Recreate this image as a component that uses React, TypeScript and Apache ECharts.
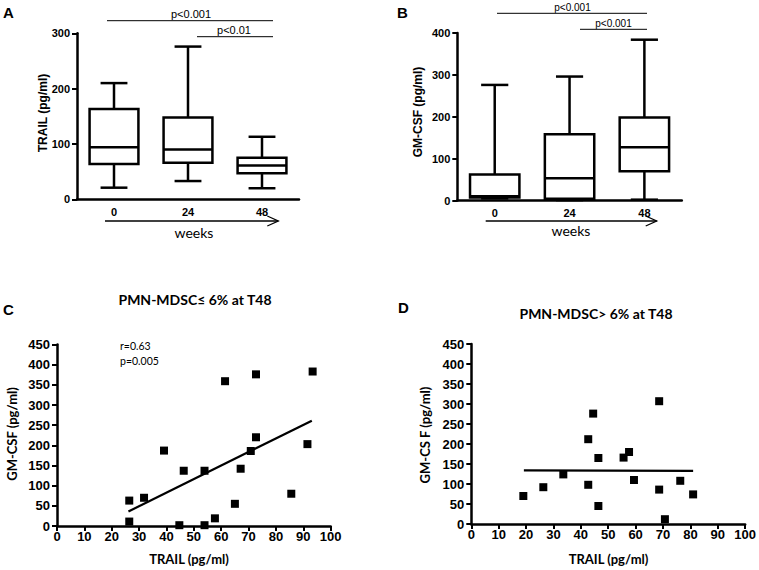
import React, { useEffect, useRef } from "react";
import * as echarts from "echarts";

// ---------- data ----------
const weekCategories = ["0", "24", "48"];
// box rows: [low whisker, Q1, median, Q3, high whisker]
const trailBoxes = [
  [21, 64, 94, 163, 210],
  [33, 66, 90, 148, 276],
  [20, 47, 61, 75, 113],
];
const gmcsfBoxes = [
  [5, 7, 10, 62, 276],
  [1, 4, 53, 158, 296],
  [2, 70, 127, 198, 384],
];
const trailTicks = { min: 0, max: 300, interval: 100 };
const gmcsfTicks = { min: 0, max: 400, interval: 100 };

// [TRAIL, GM-CSF]
const lowMdscPoints = [
  [26.4, 63], [26.4, 11], [31.8, 70], [39.1, 187], [44.7, 2], [46.3, 137],
  [53.9, 2], [53.9, 137], [57.7, 19], [61.4, 359], [65.0, 55], [67.1, 142],
  [70.8, 186], [72.7, 220], [72.7, 376], [85.6, 80], [91.5, 203], [93.4, 383],
];
const lowMdscFit = [[26.1, 36], [93.1, 261]];
const highMdscPoints = [
  [19.0, 70], [26.3, 92], [33.6, 124], [42.7, 98], [42.7, 212], [44.5, 276],
  [46.4, 165], [46.4, 45], [55.6, 166], [57.6, 180], [59.4, 110], [68.6, 307],
  [68.6, 86], [70.7, 12], [76.3, 108], [81.0, 74],
];
const highMdscFit = [[19.2, 134], [81.0, 133]];

const sigA = ["p<0.001", "p<0.01"];
const sigB = ["p<0.001", "p<0.001"];
const corrC = ["r=0.63", "p=0.005"];

// ---------- styles ----------
const ARIAL = "Liberation Sans, Arial, sans-serif";
const CALIBRI = "Lato, Open Sans, sans-serif";
const AX = 2.5;

function renderBox(params: any, api: any) {
  const idx = api.value(0);
  const vals = [1, 2, 3, 4, 5].map((i) => api.value(i));
  const band = api.size([1, 0])[0];
  const half = band * 0.33;
  const cap = half * 0.55;
  const pts = vals.map((v) => api.coord([idx, v]));
  const [pLow, pQ1, pMed, pQ3, pHigh] = pts;
  const cx = pLow[0];
  const ls = { stroke: "#000", lineWidth: 2.5, fill: "none" };
  return {
    type: "group",
    children: [
      { type: "line", shape: { x1: cx, y1: pQ3[1], x2: cx, y2: pHigh[1] }, style: ls },
      { type: "line", shape: { x1: cx, y1: pQ1[1], x2: cx, y2: pLow[1] }, style: ls },
      { type: "line", shape: { x1: cx - cap, y1: pHigh[1], x2: cx + cap, y2: pHigh[1] }, style: ls },
      { type: "line", shape: { x1: cx - cap, y1: pLow[1], x2: cx + cap, y2: pLow[1] }, style: ls },
      {
        type: "rect",
        shape: { x: cx - half, y: pQ3[1], width: half * 2, height: pQ1[1] - pQ3[1] },
        style: { stroke: "#000", lineWidth: 2.5, fill: "#fff" },
      },
      { type: "line", shape: { x1: cx - half, y1: pMed[1], x2: cx + half, y2: pMed[1] }, style: ls },
    ],
  };
}

function catAxis(gridIndex: number) {
  return {
    type: "category",
    gridIndex,
    data: weekCategories,
    boundaryGap: true,
    axisLine: { lineStyle: { color: "#000", width: AX } },
    axisTick: { alignWithLabel: true, length: 4, lineStyle: { color: "#000", width: 2 } },
    axisLabel: { color: "#000", fontFamily: ARIAL, fontWeight: "bold", fontSize: 11, margin: 7 },
    splitLine: { show: false },
  };
}

function valAxis(gridIndex: number, t: any, fontSize: number, margin: number) {
  return {
    type: "value",
    gridIndex,
    min: t.min,
    max: t.max,
    interval: t.interval,
    axisLine: { show: true, lineStyle: { color: "#000", width: AX } },
    axisTick: { show: true, length: 5, lineStyle: { color: "#000", width: 2 } },
    axisLabel: { color: "#000", fontFamily: ARIAL, fontWeight: "bold", fontSize, margin },
    splitLine: { show: false },
  };
}

function text(x: number, y: number, s: string, font: string, size: number, weight = "normal", align = "center", rot = 0, va = "middle") {
  return {
    type: "text",
    x,
    y,
    rotation: rot,
    style: { text: s, fontFamily: font, fontSize: size, fontWeight: weight, fill: "#000", align, verticalAlign: va },
  };
}

function hline(x1: number, x2: number, y: number, w = 1) {
  return { type: "line", shape: { x1, y1: y, x2, y2: y }, style: { stroke: "#000", lineWidth: w } };
}

function arrow(x1: number, x2: number, y: number) {
  return [
    hline(x1, x2, y, 1.3),
    {
      type: "polyline",
      shape: { points: [[x2 - 11, y - 5], [x2, y], [x2 - 11, y + 5]] },
      style: { stroke: "#000", lineWidth: 1.3, fill: "none" },
    },
  ];
}

export default function App() {
  const ref = useRef<HTMLDivElement>(null);
  useEffect(() => {
    if (!ref.current) return;
    const chart = echarts.init(ref.current, null, { renderer: "svg" });
    const option: any = {
      animation: false,
      backgroundColor: "#fff",
      grid: [
        { left: 77, top: 33.3, width: 222, height: 166 },
        { left: 457.3, top: 33, width: 224.5, height: 167.5 },
        { left: 57, top: 344.5, width: 273.7, height: 181.5 },
        { left: 471.3, top: 344, width: 274.4, height: 180 },
      ],
      xAxis: [
        catAxis(0),
        catAxis(1),
        { ...valAxis(2, { min: 0, max: 100, interval: 10 }, 13, 4) },
        { ...valAxis(3, { min: 0, max: 100, interval: 10 }, 13, 4) },
      ],
      yAxis: [
        valAxis(0, trailTicks, 11, 7),
        valAxis(1, gmcsfTicks, 11, 7),
        valAxis(2, { min: 0, max: 450, interval: 50 }, 13, 7),
        valAxis(3, { min: 0, max: 450, interval: 50 }, 13, 7),
      ],
      series: [
        {
          type: "custom",
          xAxisIndex: 0,
          yAxisIndex: 0,
          renderItem: renderBox,
          encode: { x: 0, y: [1, 2, 3, 4, 5] },
          data: trailBoxes.map((b, i) => [i, ...b]),
          z: 3,
        },
        {
          type: "custom",
          xAxisIndex: 1,
          yAxisIndex: 1,
          renderItem: renderBox,
          encode: { x: 0, y: [1, 2, 3, 4, 5] },
          data: gmcsfBoxes.map((b, i) => [i, ...b]),
          z: 3,
        },
        {
          type: "scatter",
          xAxisIndex: 2,
          yAxisIndex: 2,
          symbol: "rect",
          symbolSize: 8,
          itemStyle: { color: "#000", opacity: 1 },
          data: lowMdscPoints,
          z: 4,
        },
        {
          type: "line",
          xAxisIndex: 2,
          yAxisIndex: 2,
          symbol: "none",
          lineStyle: { color: "#000", width: 2.2 },
          data: lowMdscFit,
          z: 3,
        },
        {
          type: "scatter",
          xAxisIndex: 3,
          yAxisIndex: 3,
          symbol: "rect",
          symbolSize: 8,
          itemStyle: { color: "#000", opacity: 1 },
          data: highMdscPoints,
          z: 4,
        },
        {
          type: "line",
          xAxisIndex: 3,
          yAxisIndex: 3,
          symbol: "none",
          lineStyle: { color: "#000", width: 2.2 },
          data: highMdscFit,
          z: 3,
        },
      ],
      graphic: [
        // panel letters
        text(3, 12, "A", ARIAL, 15, "bold", "left"),
        text(397, 12, "B", ARIAL, 15, "bold", "left"),
        text(3, 309, "C", ARIAL, 15, "bold", "left"),
        text(398, 307, "D", ARIAL, 15, "bold", "left"),
        // panel A annotations
        hline(107, 273, 20.7),
        text(191, 19.5, sigA[0], ARIAL, 11, "normal", "center", 0, "bottom"),
        hline(197, 273, 36.7),
        text(234, 35.8, sigA[1], ARIAL, 11, "normal", "center", 0, "bottom"),
        text(43, 113, "TRAIL (pg/ml)", ARIAL, 12, "bold", "center", Math.PI / 2),
        ...arrow(105, 278.3, 221),
        text(194, 232.5, "weeks", CALIBRI, 14),
        // panel B annotations
        hline(497, 647, 13.3),
        text(572.5, 12.3, sigB[0], ARIAL, 10, "normal", "center", 0, "bottom"),
        hline(580, 647, 29.3),
        text(613.5, 28.3, sigB[1], ARIAL, 10, "normal", "center", 0, "bottom"),
        text(417.5, 112, "GM-CSF (pg/ml)", ARIAL, 12, "bold", "center", Math.PI / 2),
        ...arrow(485.7, 656.7, 221),
        text(571, 230, "weeks", CALIBRI, 14),
        // panel C
        text(195, 299, "PMN-MDSC≤ 6% at T48", CALIBRI, 14, "bold"),
        text(120, 345.5, corrC[0], CALIBRI, 10.5, "normal", "left"),
        text(120, 361, corrC[1], CALIBRI, 10.5, "normal", "left"),
        text(12, 434, "GM-CSF (pg/ml)", CALIBRI, 13, "bold", "center", Math.PI / 2),
        text(189, 559, "TRAIL (pg/ml)", CALIBRI, 13, "bold"),
        // panel D
        text(596, 313.5, "PMN-MDSC> 6% at T48", CALIBRI, 14, "bold"),
        text(425, 435, "GM-CS F (pg/ml)", CALIBRI, 13, "bold", "center", Math.PI / 2),
        text(608.5, 559, "TRAIL (pg/ml)", CALIBRI, 13, "bold"),
      ],
    };
    chart.setOption(option);
    return () => chart.dispose();
  }, []);
  return (
    <div
      ref={ref}
      style={{ position: "fixed", left: 0, top: 0, width: 759, height: 570, background: "#fff" }}
    />
  );
}
